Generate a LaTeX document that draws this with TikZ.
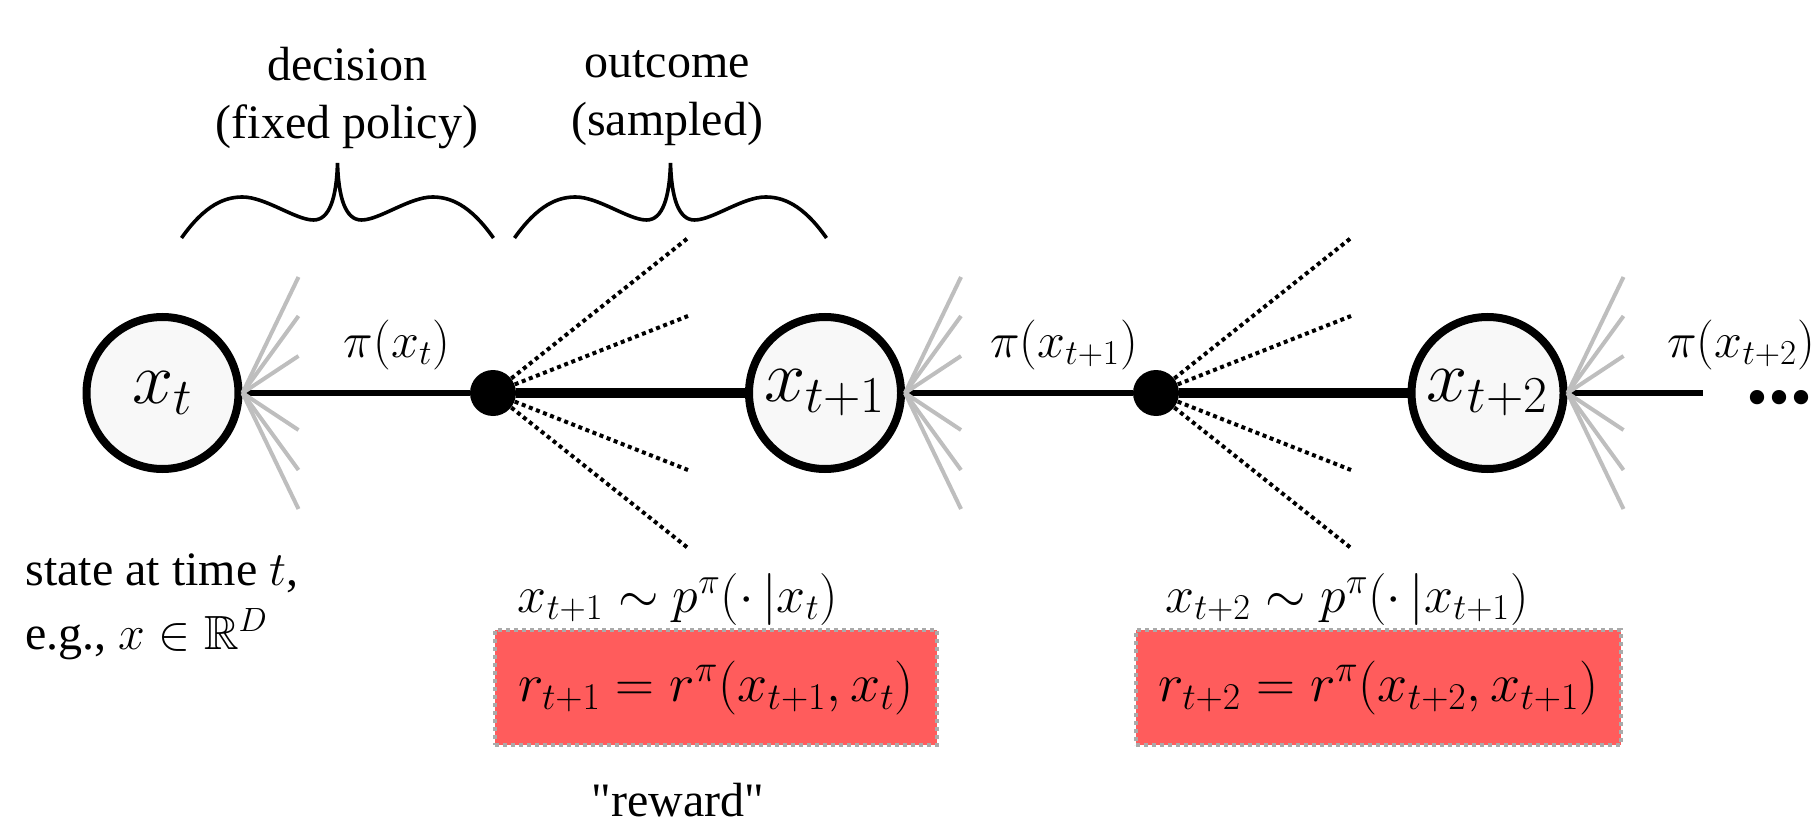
\RequirePackage{fix-cm}
\documentclass[tikz,border=0pt]{standalone}
\usepackage{amssymb}
\usepackage[no-math]{fontspec}
\setmainfont{Liberation Serif}[Ligatures=TeXOff]
\usetikzlibrary{calc}
\definecolor{rewardred}{RGB}{255,92,92}
\definecolor{statefill}{RGB}{248,248,248}
\definecolor{branchgray}{RGB}{190,190,190}
\definecolor{boxborder}{RGB}{170,170,170}
\tikzset{
  statenode/.style={circle, draw=black, line width=4pt, fill=statefill, minimum size=76pt, inner sep=0pt, font=\fontsize{37}{42}\selectfont},
  chancenode/.style={circle, fill=black, minimum size=23pt, inner sep=0pt},
  thinlink/.style={line width=2.6pt},
  thicklink/.style={line width=5pt},
  sampleline/.style={line width=2pt, dash pattern=on 2pt off 1.8pt},
  policyline/.style={draw=branchgray, line width=2pt},
  bracepath/.style={line width=1.8pt},
  mathlabel/.style={font=\fontsize{25}{30}\selectfont, inner sep=0pt},
  translabel/.style={font=\fontsize{26}{30}\selectfont, inner sep=0pt},
  plaintext/.style={font=\fontsize{24}{29}\selectfont, inner sep=0pt},
  rewardbox/.style={draw=boxborder, line width=2pt, dash pattern=on 2pt off 2pt, fill=rewardred, minimum height=57.5pt, inner sep=0pt, font=\fontsize{27}{32}\selectfont},
}
\begin{document}
\begin{tikzpicture}[x=0.5pt,y=-0.5pt]
\useasboundingbox (0,0) rectangle (1818,828);

% states and chance nodes
\node[statenode] (xt)  at (162.5,393) {$x_t$};
\node[statenode] (xt1) at (825,393)   {$x_{t+1}$};
\node[statenode] (xt2) at (1487.5,393) {$x_{t+2}$};
\node[chancenode] (d1) at (493,393) {};
\node[chancenode] (d2) at (1156,393) {};
\coordinate (tail) at (1703,393);

% main chain
\draw[thinlink]  (xt)  -- (d1);
\draw[thicklink] (d1)  -- (xt1);
\draw[thinlink]  (xt1) -- (d2);
\draw[thicklink] (d2)  -- (xt2);
\draw[thinlink]  (xt2) -- (tail);

% policy (gray) fans
\foreach \s in {xt,xt1,xt2}{
  \foreach \dy in {-116,-77,-37,37,77,116}{
    \draw[policyline] (\s.east) -- ++(56,\dy);
  }
}

% sampled outcome (dotted) fans
\foreach \d in {d1,d2}{
  \foreach \dy in {-155,-77,77,155}{
    \draw[sampleline] (\d) -- ($(\d)+(195,\dy)$);
  }
}

% braces
\foreach \c in {337.5,670.5}{
  \draw[bracepath] (\c-156,238) .. controls (\c-132,204) and (\c-112,197) .. (\c-95,197)
    .. controls (\c-72,197) and (\c-42,220) .. (\c-24,220)
    .. controls (\c-8,220) and (\c-1,198) .. (\c,163)
    .. controls (\c+1,198) and (\c+8,220) .. (\c+24,220)
    .. controls (\c+42,220) and (\c+72,197) .. (\c+95,197)
    .. controls (\c+112,197) and (\c+132,204) .. (\c+156,238);
}
\node[plaintext, align=center] (dec) at (347,98) {decision\\(fixed policy)};
\node[plaintext, align=center] (out) at (667,98) {outcome\\(sampled)};

% policy labels
\node[mathlabel] (pi0) at (397,345) {$\pi(x_t)$};
\node[mathlabel] (pi1) at (1064,345) {$\pi(x_{t+1})$};
\node[mathlabel, anchor=west] (pi2) at (1667,345) {$\pi(x_{t+2})$};
\node[inner sep=0pt, anchor=base, text height=6pt, text depth=0pt, font=\fontsize{44}{44}\selectfont\bfseries] (more) at (1779,403) {...};

% state description
\node[plaintext, anchor=base west] (st1) at (25,585) {state at time $t$,};
\node[plaintext, anchor=base west] (st2) at (25,649) {e.g., $x\in\mathbb{R}^D$};

% transitions and rewards
\node[translabel] (tr1) at (678,599) {$x_{t+1}\sim p^{\pi}(\cdot\,|x_t)$};
\node[translabel] (tr2) at (1347,599) {$x_{t+2}\sim p^{\pi}(\cdot\,|x_{t+1})$};
\node[rewardbox, minimum width=221pt] (r1) at (716,687.5) {$r_{t+1}=r^{\pi}(x_{t+1},x_t)$};
\node[rewardbox, minimum width=242.5pt] (r2) at (1378.5,687.5) {$r_{t+2}=r^{\pi}(x_{t+2},x_{t+1})$};
\node[plaintext] (rw) at (678,800) {"reward"};
\end{tikzpicture}
\end{document}
